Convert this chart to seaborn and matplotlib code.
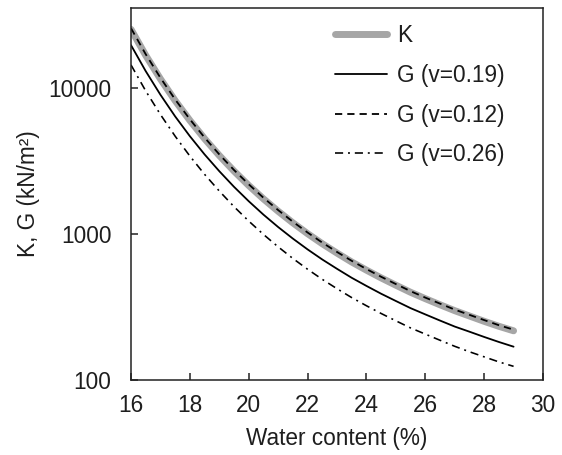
import matplotlib
matplotlib.use("Agg")
import matplotlib.pyplot as plt
import seaborn as sns
import pandas as pd
from matplotlib.ticker import FixedLocator, FixedFormatter, NullLocator

# ---- data ----
water = [16, 16.5, 17, 17.5, 18, 18.5, 19, 19.5, 20, 20.5, 21, 21.5, 22, 22.5,
         23, 23.5, 24, 24.5, 25, 25.5, 26, 26.5, 27, 27.5, 28, 28.5, 29]
K = [25000, 16600, 11450, 8140, 5960, 4470, 3430, 2685, 2140, 1733, 1426, 1188,
     1002, 855, 738, 641, 564, 499, 445, 398, 360, 327, 298, 274, 252, 233, 217]
G_019 = [19500, 12950, 8930, 6350, 4650, 3490, 2680, 2095, 1670, 1352, 1112, 927,
         782, 667, 576, 500, 440, 389, 347, 310, 281, 255, 232, 214, 197, 182, 169]
G_012 = [25450, 16900, 11660, 8290, 6070, 4550, 3490, 2730, 2180, 1764, 1452, 1209,
         1020, 870, 751, 653, 574, 508, 453, 405, 366, 333, 303, 279, 257, 237, 221]
G_026 = [14280, 9480, 6540, 4650, 3400, 2550, 1960, 1533, 1222, 990, 814, 678,
         572, 488, 421, 366, 322, 285, 254, 227, 206, 187, 170, 156, 144, 133, 124]

labels = ["K", "G (v=0.19)", "G (v=0.12)", "G (v=0.26)"]
x_ticks = [16, 18, 20, 22, 24, 26, 28, 30]
y_ticks = [100, 1000, 10000]
y_tick_labels = ["100", "1000", "10000"]

sns.set_style("ticks")
plt.rcParams["font.family"] = ["Liberation Sans", "DejaVu Sans"]
txt = "#1e1e1e"
fs = 16.3

fig = plt.figure(figsize=(5.62, 4.55), dpi=100)
ax = fig.add_axes([131 / 562, 1 - 380 / 455, (543 - 131) / 562, (380 - 8) / 455])

df = pd.DataFrame({"w": water, "K": K, "G19": G_019, "G12": G_012, "G26": G_026})

lw = 1.3
sns.lineplot(data=df, x="w", y="K", ax=ax, color="#a6a6a6", linewidth=5.0,
             solid_capstyle="round", label=labels[0])
sns.lineplot(data=df, x="w", y="G19", ax=ax, color="black", linewidth=lw,
             label=labels[1])
sns.lineplot(data=df, x="w", y="G12", ax=ax, color="black", linewidth=lw,
             linestyle=(0, (4.0, 2.8)), label=labels[2])
sns.lineplot(data=df, x="w", y="G26", ax=ax, color="black", linewidth=lw * 0.9,
             linestyle=(0, (5.0, 3.0, 1.2, 3.0)), label=labels[3])

ax.set_yscale("log")
ax.set_xlim(16, 30)
ax.set_ylim(100, 35000)
ax.xaxis.set_major_locator(FixedLocator(x_ticks))
ax.yaxis.set_major_locator(FixedLocator(y_ticks))
ax.yaxis.set_major_formatter(FixedFormatter(y_tick_labels))
ax.yaxis.set_minor_locator(NullLocator())
ax.xaxis.set_minor_locator(NullLocator())

for s in ax.spines.values():
    s.set_visible(True)
    s.set_color("#222222")
    s.set_linewidth(1.1)

ax.tick_params(axis="both", direction="in", length=5, width=1.1, color="#222222",
               labelsize=fs, labelcolor=txt)
ax.tick_params(axis="y", pad=14)
ax.tick_params(axis="x", pad=10)

ax.set_xlabel("Water content (%)", fontsize=fs, color=txt, labelpad=7)
ax.set_ylabel("K, G (kN/m²)", fontsize=fs, color=txt, labelpad=6)

leg = ax.legend(loc="upper left", bbox_to_anchor=(0.495, 0.957), frameon=False,
                fontsize=fs, handlelength=2.3, handletextpad=0.45,
                labelspacing=0.74, borderpad=0, borderaxespad=0)
for t in leg.get_texts():
    t.set_color(txt)

fig.savefig("out.png", dpi=100)
